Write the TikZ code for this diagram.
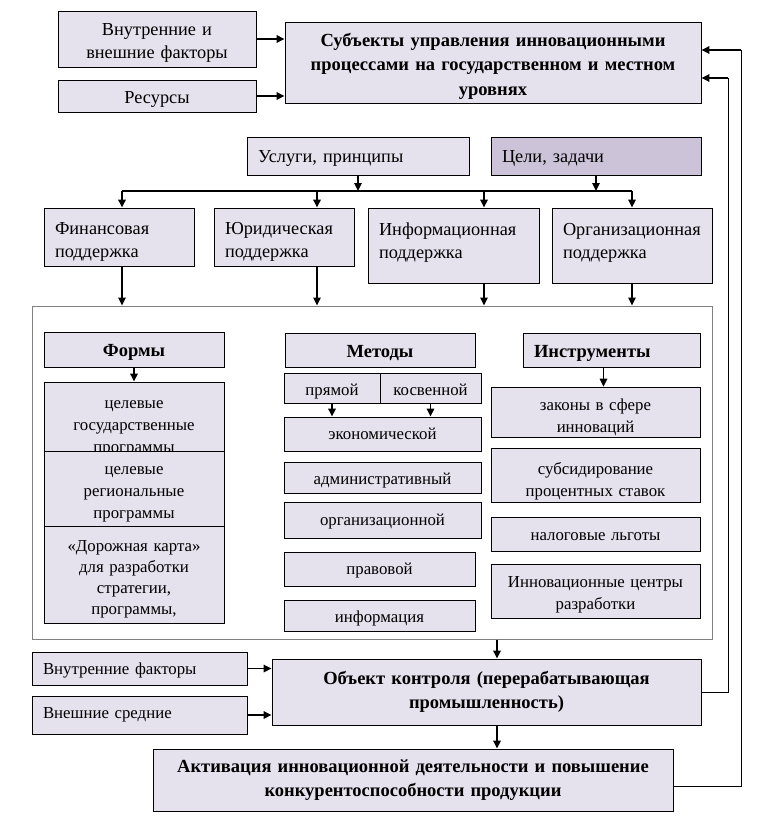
\documentclass[tikz,border=0pt]{standalone}
\usepackage{fontspec}
\setmainfont{Liberation Serif}
\usetikzlibrary{arrows.meta}
\definecolor{boxfill}{RGB}{229,225,237}
\definecolor{goalfill}{RGB}{204,195,217}
\definecolor{framegray}{RGB}{128,128,128}
% strut of a given height at the start of a first line
\newcommand{\vlift}[1]{\rule{0pt}{#1pt}}
\tikzset{
  base/.style={draw=black, line width=0.9pt, fill=boxfill, inner xsep=11pt, inner ysep=2pt, align=center},
  box/.style={base, font=\fontsize{16.8}{22}\selectfont},
  tbox/.style={base, font=\fontsize{18.3}{23}\selectfont},
  lbox/.style={tbox, align=left},
  hbox/.style={base, font=\bfseries\fontsize{18.5}{24.5}\selectfont},
  txt/.style={inner sep=0pt, align=center, font=\fontsize{16.8}{22}\selectfont},
  arr/.style={line width=1.6pt, -{Triangle[length=8pt, width=7.5pt]}},
  busline/.style={line width=1.3pt},
  fbline/.style={line width=0.8pt}
}
\begin{document}
\begin{tikzpicture}[x=1pt, y=-1pt]
\fill[white] (0,0) rectangle (768,824);
\useasboundingbox (0,0) rectangle (768,824);
% top part
\node[tbox, text width=176pt, minimum height=56pt] (a1) at (157,39) {\vlift{20.1}Внутренние и\\внешние факторы};
\node[tbox, text width=176pt, minimum height=32pt] (a2) at (157,96) {\vlift{18.1}Ресурсы};
\node[hbox, text width=394pt, minimum height=81pt] (subj) at (493,62.5)
  {\vlift{20.4}Субъекты управления инновационными\\процессами на государственном и местном\\уровнях};
\draw[arr] (a1.east) -- (a1.east -| subj.west);
\draw[arr] (a2.east) -- (a2.east -| subj.west);

\node[lbox, text width=200pt, minimum height=38pt] (usl) at (358,156) {\vlift{16.1}Услуги, принципы};
\node[lbox, fill=goalfill, text width=188pt, minimum height=38pt] (goal) at (596,156) {\vlift{16.1}Цели, задачи};

% support
\node[lbox, text width=128pt, minimum height=58pt] (fin) at (119,237) {\vlift{22.3}Финансовая\\поддержка};
\node[lbox, text width=118pt, minimum height=58pt] (jur) at (284,237) {\vlift{22.3}Юридическая\\поддержка};
\node[lbox, text width=149pt, minimum height=75pt] (inf) at (453.5,245.5) {\vlift{20.3}Информационная\\поддержка\\[-6pt]~};
\node[lbox, text width=138pt, minimum height=75pt] (org) at (632,245.5) {\vlift{20.3}Организационная\\поддержка\\[-6pt]~};

\coordinate (bus) at (0,191);
\draw[arr] (usl.south) -- (usl.south |- bus);
\draw[arr] (goal.south) -- (goal.south |- bus);
\coordinate (fintop) at ([xshift=3pt]fin.north);
\coordinate (jurtop) at ([xshift=33pt]jur.north);
\coordinate (inftop) at ([xshift=30.5pt]inf.north);
\coordinate (orgtop) at (org.north);
\draw[busline] (fintop |- bus) -- (orgtop |- bus);

% frame
\node[draw=framegray, line width=1pt, fill=white, minimum width=680pt, minimum height=333pt] (frame) at (372,472.5) {};
\foreach \n in {fin, jur, inf, org} {
  \draw[arr] (\n top |- bus) -- (\n top);
  \draw[arr] (\n top |- \n.south) -- (\n top |- frame.north);
}

% forms
\node[hbox, text width=158pt, minimum height=35pt] (forms) at (134,349.5) {\vlift{18.4}Формы};
\node[box, text width=158pt, minimum height=69pt] (f1) at (134,416.5) {};
\node[txt, anchor=north] (f1t) at ([yshift=-19pt]f1.north) {целевые\\государственные\\программы};
\node[box, text width=158pt, minimum height=75pt] (f2) at (134,488.5) {\vlift{19.7}целевые\\региональные\\программы};
\node[box, text width=158pt, minimum height=97pt, font=\fontsize{16.8}{21}\selectfont] (f3) at (134,574.5) {\vlift{21.1}«Дорожная карта»\\для разработки\\стратегии,\\программы,};
\draw[arr] (forms.south) -- (f1.north);

% methods
\node[hbox, text width=168pt, minimum height=34pt] (meth) at (380,350) {\vlift{18.4}Методы};
\node[box, inner xsep=4pt, text height=15pt, text depth=0pt, minimum width=96pt, minimum height=30pt] (dir) at (332,388) {прямой};
\node[box, inner xsep=4pt, text height=15pt, text depth=0pt, minimum width=101pt, minimum height=30pt] (ind) at (430.5,388) {косвенной};
\node[box, text width=175pt, minimum height=34pt] (econ) at (382.5,434) {\vlift{9.7}экономической};
\node[box, text width=175pt, minimum height=31pt] (adm) at (382.5,477.5) {\vlift{17.3}административный};
\node[box, text width=175pt, minimum height=36pt] (orgm) at (382.5,520) {\vlift{15.3}организационной};
\node[box, text width=169pt, minimum height=34pt] (law) at (379.5,569) {\vlift{15.3}правовой};
\node[box, text width=169pt, minimum height=31pt] (info) at (379.5,615.5) {\vlift{17.6}информация};
\draw[arr] (dir.south) -- (dir.south |- econ.north);
\draw[arr] (ind.south) -- (ind.south |- econ.north);

% tools
\node[hbox, align=left, text width=155pt, minimum height=34pt] (tools) at (611.5,350) {\vlift{18.4}Инструменты};
\node[box, text width=187pt, minimum height=49pt] (zak) at (595.5,412.5) {\vlift{21.6}законы в сфере\\инноваций};
\node[box, text width=187pt, minimum height=49pt] (sub) at (595.5,475.5) {\vlift{23.6}субсидирование\\процентных ставок};
\node[box, text width=187pt, minimum height=34pt] (tax) at (595.5,534) {\vlift{13.7}налоговые льготы};
\node[box, text width=187pt, minimum height=54pt] (cent) at (595.5,591) {\vlift{19.1}Инновационные центры\\разработки};
\coordinate (tl) at ([xshift=-8pt]tools.south);
\draw[arr] (tl) -- (tl |- zak.north);

% bottom part
\node[hbox, text width=407pt, minimum height=66pt] (obj) at (486.5,692) {Объект контроля (перерабатывающая\\промышленность)};
\node[box, align=left, text width=193pt, minimum height=33pt] (vf) at (139.5,668.5) {\vlift{15.1}Внутренние факторы};
\node[box, align=left, text width=193pt, minimum height=38pt] (ve) at (139.5,715) {Внешние средние};
\node[hbox, text width=498pt, minimum height=62pt] (akt) at (413,780) {Активация инновационной деятельности и повышение\\конкурентоспособности продукции};
\draw[arr] (vf.east) -- (vf.east -| obj.west);
\draw[arr] (ve.east) -- (ve.east -| obj.west);
\coordinate (od) at ([xshift=10.5pt]obj.north);
\draw[arr] (od |- frame.south) -- (od);
\draw[arr] (od |- obj.south) -- (od |- akt.north);

% feedback
\coordinate (inA) at ([yshift=-15.5pt]subj.east);
\coordinate (inB) at ([yshift=12.5pt]subj.east);
\coordinate (loopA) at (728,0);
\coordinate (loopB) at (741,0);
\draw[fbline] (obj.east) -| (loopA |- inA);
\draw[arr] (loopA |- inA) -- (inA);
\draw[fbline] ([yshift=-6pt]akt.east) -| (loopB |- inB);
\draw[arr] (loopB |- inB) -- (inB);
\end{tikzpicture}
\end{document}
